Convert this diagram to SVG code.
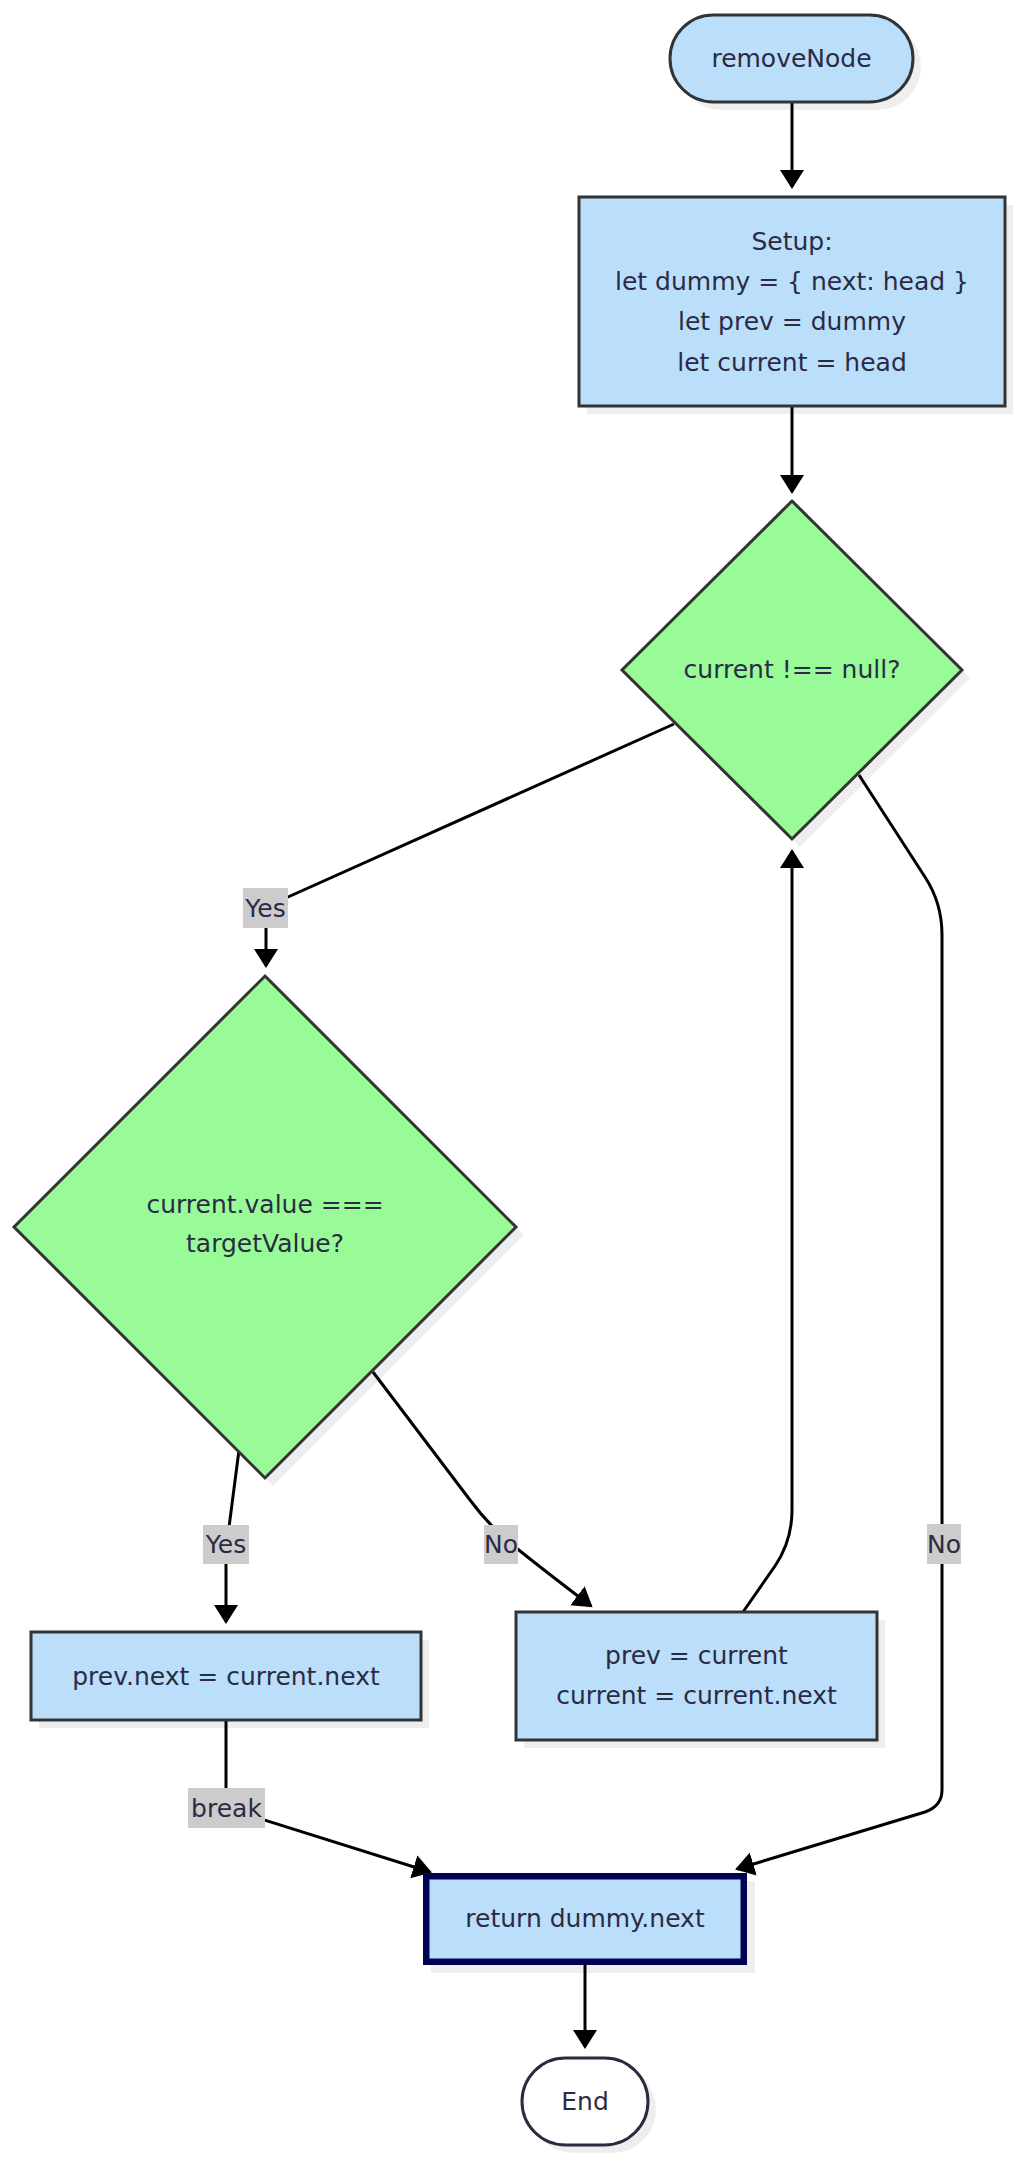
<svg xmlns="http://www.w3.org/2000/svg" width="1024" height="2170" viewBox="0 0 1024 2170">
<style>
.bg{fill:#ffffff}
.proc{fill:#bbdefb;stroke:#333333;stroke-width:3}
.dec{fill:#98fb98;stroke:#333333;stroke-width:3}
.shadow{fill:#000000;opacity:0.065}
.t{font-family:"DejaVu Sans",Verdana,sans-serif;font-size:25px;fill:#2b2b44;text-anchor:middle}
.edge{fill:none;stroke:#000000;stroke-width:3}
.lbl{fill:#cccccc}
</style>
<defs>
<marker id="ah" markerUnits="userSpaceOnUse" markerWidth="20" markerHeight="24" refX="17" refY="12" orient="auto">
<path d="M0,0 L19,12 L0,24 Z" fill="#000000"/>
</marker>
</defs>
<rect class="bg" x="0" y="0" width="1024" height="2170"/>

<g id="connectors">
<path class="edge" d="M792,102 L792,187" marker-end="url(#ah)"/>
<path class="edge" d="M792,406 L792,492" marker-end="url(#ah)"/>
<path class="edge" d="M674,724 L288,897 Q266,907 266,925 L266,966" marker-end="url(#ah)"/>
<path class="edge" d="M859,775 L925,877 Q942,903 942,935 L942,1790 Q942,1806 925,1812 L737,1869" marker-end="url(#ah)"/>
<path class="edge" d="M239,1450 L228,1535 Q226,1548 226,1560 L226,1622" marker-end="url(#ah)"/>
<path class="edge" d="M373,1372 L470,1500 Q490,1527 515,1547 Q550,1575 591,1606" marker-end="url(#ah)"/>
<path class="edge" d="M743,1612 L775,1566 Q792,1541 792,1510 L792,851" marker-end="url(#ah)"/>
<path class="edge" d="M226,1720 L226,1808 L430,1872" marker-end="url(#ah)"/>
<path class="edge" d="M585,1965 L585,2047" marker-end="url(#ah)"/>
</g>

<g id="edge-labels">
<rect class="lbl" x="243" y="888" width="45" height="40"/>
<text class="t" x="265.5" y="917">Yes</text>
<rect class="lbl" x="927" y="1524" width="34" height="40"/>
<text class="t" x="944" y="1553">No</text>
<rect class="lbl" x="203" y="1525" width="46" height="39"/>
<text class="t" x="226" y="1553">Yes</text>
<rect class="lbl" x="484" y="1525" width="34" height="39"/>
<text class="t" x="501" y="1553">No</text>
<rect class="lbl" x="188" y="1788" width="77" height="40"/>
<text class="t" x="226.5" y="1817">break</text>
</g>

<g id="node-start">
<rect class="shadow" x="678" y="23" width="243" height="87" rx="43.5"/>
<rect class="proc" x="670" y="15" width="243" height="87" rx="43.5"/>
<text class="t" x="791.5" y="67">removeNode</text>
</g>

<g id="node-setup">
<rect class="shadow" x="587" y="205" width="426" height="209"/>
<rect class="proc" x="579" y="197" width="426" height="209"/>
<text class="t" x="792" y="250">Setup:</text>
<text class="t" x="792" y="290">let dummy = { next: head }</text>
<text class="t" x="792" y="330">let prev = dummy</text>
<text class="t" x="792" y="371">let current = head</text>
</g>

<g id="node-cond1">
<polygon class="shadow" points="800,509 970,678 800,847 630,678"/>
<polygon class="dec" points="792,501 962,670 792,839 622,670"/>
<text class="t" x="792" y="678">current !== null?</text>
</g>

<g id="node-cond2">
<polygon class="shadow" points="273,984 524,1235 273,1486 22,1235"/>
<polygon class="dec" points="265,976 516,1227 265,1478 14,1227"/>
<text class="t" x="265" y="1213">current.value ===</text>
<text class="t" x="265" y="1252">targetValue?</text>
</g>

<g id="node-remove">
<rect class="shadow" x="39" y="1640" width="390" height="88"/>
<rect class="proc" x="31" y="1632" width="390" height="88"/>
<text class="t" x="226" y="1685">prev.next = current.next</text>
</g>

<g id="node-advance">
<rect class="shadow" x="524" y="1620" width="361" height="128"/>
<rect class="proc" x="516" y="1612" width="361" height="128"/>
<text class="t" x="696.5" y="1664">prev = current</text>
<text class="t" x="696.5" y="1704">current = current.next</text>
</g>

<g id="node-return">
<rect class="shadow" x="431" y="1881" width="324" height="92"/>
<rect x="426.25" y="1876.25" width="317.5" height="85.5" fill="#bbdefb" stroke="#000055" stroke-width="6.5"/>
<text class="t" x="585" y="1927">return dummy.next</text>
</g>

<g id="node-end">
<rect class="shadow" x="530" y="2066" width="126" height="87" rx="43.5"/>
<rect x="522" y="2058" width="126" height="87" rx="43.5" fill="#ffffff" stroke="#2a2a40" stroke-width="3"/>
<text class="t" x="585" y="2110">End</text>
</g>
</svg>
